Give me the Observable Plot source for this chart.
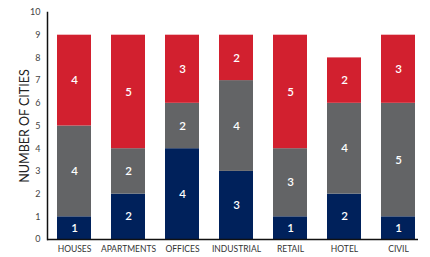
<!DOCTYPE html>
<html><head><meta charset="utf-8">
<script src="https://cdn.jsdelivr.net/npm/d3@7"></script>
<script src="https://cdn.jsdelivr.net/npm/@observablehq/plot@0.6"></script>
<style>body{margin:0;background:#fff;} svg{display:block;}</style>
</head><body><div id="chart"></div>
<script>
const categories = ["HOUSES","APARTMENTS","OFFICES","INDUSTRIAL","RETAIL","HOTEL","CIVIL"];
const series = ["Tier 1","Tier 2","Tier 3"];
const navyValues = [1,2,4,3,1,2,1];
const grayValues = [4,2,2,4,3,4,5];
const redValues  = [4,5,3,2,5,2,3];
const yTicks = [0,1,2,3,4,5,6,7,8,9,10];
const colors = ["#00215b","#636466","#d2202f"];

const rows = [];
categories.forEach((c,i) => {
  [navyValues, grayValues, redValues].forEach((arr,j) => rows.push({cat:c, s:series[j], v:arr[i]}));
});

const font = "Lato, 'Open Sans', sans-serif";
const chart = Plot.plot({
  width: 430, height: 257,
  marginLeft: 47, marginRight: 12, marginTop: 12, marginBottom: 18,
  style: {fontFamily: font, fontSize: "8px", color: "#333", background: "#fff"},
  x: {domain: categories, paddingInner: 0.37, paddingOuter: 0.12, align: 0.77, label: null},
  y: {domain: [0,10]},
  color: {domain: series, range: colors},
  marks: [
    Plot.barY(rows, {x: "cat", y: "v", fill: "s", order: series}),
    Plot.text(rows, Plot.stackY({x: "cat", y: "v", z: "s", order: series, text: "v", fill: "white", fontWeight: 600, fontSize: 11.5})),
    Plot.axisY({ticks: yTicks, tickSize: 0, tickPadding: 7, fontSize: 9, fill: "#444", label: "NUMBER OF CITIES", labelAnchor: "center", labelArrow: "none", labelOffset: 27}),
    Plot.axisX({tickSize: 0, tickPadding: 6, fontSize: 8.5, fill: "#333", label: null}),
    Plot.frame({anchor: "left", stroke: "#111", strokeWidth: 1.5}),
    Plot.ruleY([0], {stroke: "#111", strokeWidth: 1.5})
  ]
});
document.getElementById("chart").append(chart);
const lbl = [...chart.querySelectorAll("text")].find(t => t.textContent === "NUMBER OF CITIES");
if (lbl) { lbl.setAttribute("font-size", "12.5"); lbl.style.fontSize = "12.5px"; lbl.setAttribute("fill", "#222"); }
</script>
</body></html>
